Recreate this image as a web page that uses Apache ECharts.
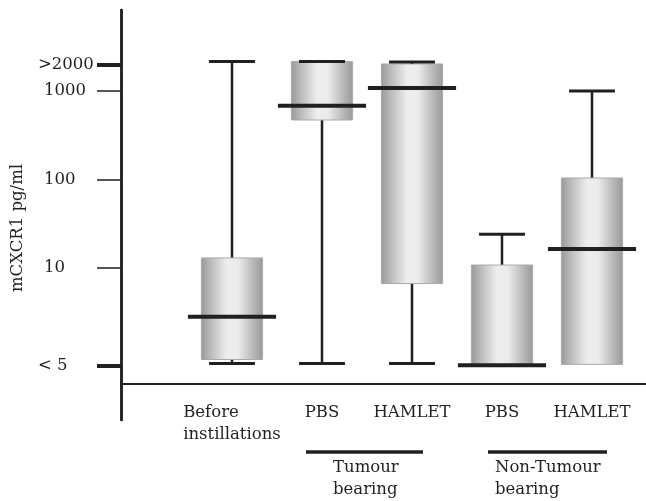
<!DOCTYPE html>
<html>
<head>
<meta charset="utf-8">
<script src="https://cdn.jsdelivr.net/npm/echarts@6/dist/echarts.min.js"></script>
<style>
html,body{margin:0;padding:0;background:#fff;}
#chart{width:646px;height:501px;}
</style>
</head>
<body>
<div id="chart"></div>
<script>
// ---- data (pg/ml; values at the "< 5" detection limit are given as 5) ----
var categories = ['Before\ninstillations', 'PBS', 'HAMLET', 'PBS', 'HAMLET'];
var lowWhisker  = [5.1,  5.1,  5.1,  5,    5.05];
var q1          = [5.3,  470,  9.2,  5,    5.05];
var median      = [7.5,  680,  1080, 5,    16.4];
var q3          = [13,   2150, 2020, 10.8, 104];
var highWhisker = [2150, 2150, 2130, 24,   1000];
var thinTickValues  = [10, 100, 1000];
var thinTickLabels  = ['10', '100', '1000'];
var thickTickValues = [5, 2000];
var thickTickLabels = ['< 5', '>2000'];
var groups = [
  { name: 'Tumour\nbearing' },
  { name: 'Non-Tumour\nbearing' }
];

// axis transform: log scale above 10, compressed linear segment from "<5" to 10
function pos(v) {
  if (v >= 10) return Math.log10(v);
  return -0.1 + (v - 5) / 5 * 1.1;
}

var FONT = '"DejaVu Serif", serif';
var FS = 16.5;
var INK = '#231f20';

var seriesData = categories.map(function (c, i) {
  return [i, pos(lowWhisker[i]), pos(q1[i]), pos(median[i]), pos(q3[i]), pos(highWhisker[i])];
});

var boxGradient = new echarts.graphic.LinearGradient(0, 0, 1, 0, [
  { offset: 0, color: '#989898' },
  { offset: 0.15, color: '#b9b9b9' },
  { offset: 0.42, color: '#eeeeee' },
  { offset: 0.6, color: '#ebebeb' },
  { offset: 0.85, color: '#b6b6b6' },
  { offset: 1, color: '#999999' }
]);

function yAxisBase(values, labels, tickWidth, margin) {
  return {
    type: 'value',
    position: 'left',
    offset: 66,
    min: -0.7175,
    max: 3.915,
    axisLine: { show: true, lineStyle: { color: INK, width: 2.5 } },
    splitLine: { show: false },
    axisTick: {
      show: true, inside: false, length: 24,
      customValues: values.map(pos),
      lineStyle: { color: INK, width: tickWidth }
    },
    axisLabel: {
      show: true, align: 'left', margin: margin,
      customValues: values.map(pos),
      formatter: function (val) {
        for (var k = 0; k < values.length; k++) {
          if (Math.abs(pos(values[k]) - val) < 1e-6) return labels[k];
        }
        return '';
      },
      fontFamily: FONT, fontSize: FS, color: INK
    }
  };
}

var chart = echarts.init(document.getElementById('chart'), null, { renderer: 'canvas' });

var option = {
  backgroundColor: '#ffffff',
  animation: false,
  grid: { left: 187, right: 9, top: 10, bottom: 81 },
  xAxis: {
    type: 'category',
    data: categories,
    offset: -36,
    axisLine: { show: false },
    axisTick: { show: false },
    axisLabel: {
      interval: 0,
      margin: 18,
      fontFamily: FONT, fontSize: FS, color: INK, lineHeight: 22,
      formatter: function (val) {
        if (val.indexOf('\n') >= 0) {
          return val.split('\n').map(function (s) { return '{l|' + s + '}'; }).join('\n');
        }
        return val;
      },
      rich: {
        l: { align: 'left', fontFamily: FONT, fontSize: FS, color: INK, lineHeight: 22 }
      }
    }
  },
  yAxis: [
    yAxisBase(thinTickValues, thinTickLabels, 1.5, 77),
    yAxisBase(thickTickValues, thickTickLabels, 4, 83)
  ],
  series: [{
    type: 'custom',
    xAxisIndex: 0,
    yAxisIndex: 0,
    data: seriesData,
    renderItem: function (params, api) {
      var x = api.value(0);
      var lowP = api.coord([x, api.value(1)]);
      var q1P = api.coord([x, api.value(2)]);
      var medP = api.coord([x, api.value(3)]);
      var q3P = api.coord([x, api.value(4)]);
      var highP = api.coord([x, api.value(5)]);
      var band = api.size([1, 0])[0];
      var cx = lowP[0];
      var bw = band * 0.68, cw = band * 0.51, mw = band * 0.98;
      var children = [
        { type: 'line', shape: { x1: cx, y1: highP[1], x2: cx, y2: lowP[1] },
          style: { stroke: INK, lineWidth: 2.5 } },
        { type: 'rect', shape: { x: cx - bw / 2, y: q3P[1], width: bw, height: q1P[1] - q3P[1] },
          style: { fill: boxGradient, stroke: '#a9a9a9', lineWidth: 1 } },
        { type: 'line', shape: { x1: cx - cw / 2, y1: highP[1], x2: cx + cw / 2, y2: highP[1] },
          style: { stroke: INK, lineWidth: 3 } }
      ];
      if (api.value(1) < api.value(2)) {
        children.push({ type: 'line', shape: { x1: cx - cw / 2, y1: lowP[1], x2: cx + cw / 2, y2: lowP[1] },
          style: { stroke: INK, lineWidth: 3 } });
      }
      children.push({ type: 'line', shape: { x1: cx - mw / 2, y1: medP[1], x2: cx + mw / 2, y2: medP[1] },
        style: { stroke: INK, lineWidth: 4 } });
      return { type: 'group', children: children };
    }
  }],
  graphic: [
    { type: 'line', shape: { x1: 120, y1: 384, x2: 646, y2: 384 }, style: { stroke: INK, lineWidth: 2 } },
    { type: 'text', x: 18, y: 228, rotation: Math.PI / 2,
      style: { text: 'mCXCR1 pg/ml', font: FS + 'px ' + FONT, fill: INK, textAlign: 'center', textVerticalAlign: 'middle' } },
    { type: 'line', shape: { x1: 306, y1: 452, x2: 423, y2: 452 }, style: { stroke: INK, lineWidth: 3.5 } },
    { type: 'line', shape: { x1: 488, y1: 452, x2: 607, y2: 452 }, style: { stroke: INK, lineWidth: 3.5 } },
    { type: 'text', x: 333, y: 457,
      style: { text: groups[0].name, font: FS + 'px ' + FONT, fill: INK, lineHeight: 22, textVerticalAlign: 'top' } },
    { type: 'text', x: 495, y: 457,
      style: { text: groups[1].name, font: FS + 'px ' + FONT, fill: INK, lineHeight: 22, textVerticalAlign: 'top' } }
  ]
};
chart.setOption(option);
</script>
</body>
</html>
